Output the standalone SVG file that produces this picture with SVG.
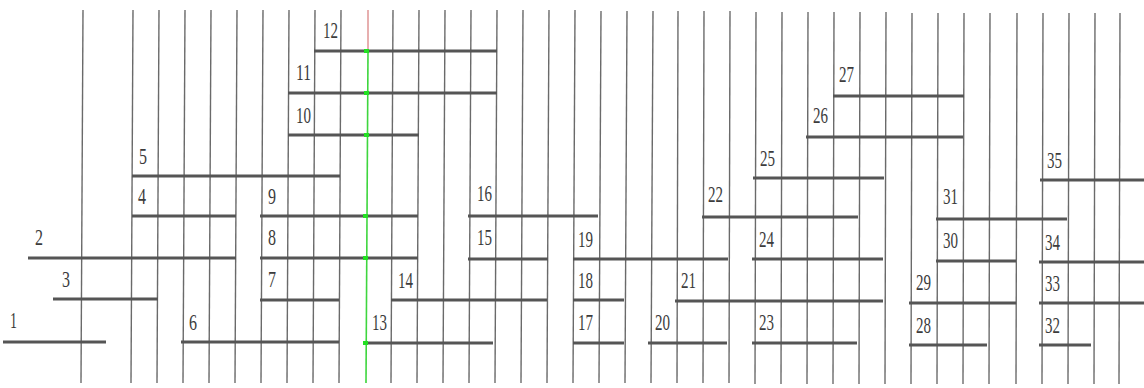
<svg xmlns="http://www.w3.org/2000/svg" width="1144" height="388" viewBox="0 0 1144 388">
<style>
.v{stroke:#6a6a6a;stroke-width:1.4}
.h{stroke:#555;stroke-width:3;stroke-linecap:butt}
.t{font-family:"Liberation Serif","Times New Roman",serif;font-size:24px;fill:#3c3c3c}
</style>
<rect width="1144" height="388" fill="#fff"/>
<g id="grid">
<line class="v" x1="83" y1="10" x2="81" y2="383"/>
<line class="v" x1="133" y1="10" x2="131" y2="383"/>
<line class="v" x1="159" y1="10" x2="157" y2="383"/>
<line class="v" x1="185" y1="10" x2="183" y2="383"/>
<line class="v" x1="211" y1="10" x2="209" y2="383"/>
<line class="v" x1="237" y1="10" x2="235" y2="383"/>
<line class="v" x1="263" y1="10" x2="261" y2="383"/>
<line class="v" x1="289" y1="10" x2="287" y2="383"/>
<line class="v" x1="315" y1="10" x2="313" y2="383"/>
<line class="v" x1="341" y1="10" x2="339" y2="383"/>
<line class="v" x1="393" y1="10" x2="391" y2="383"/>
<line class="v" x1="419" y1="10" x2="417" y2="383"/>
<line class="v" x1="445" y1="10" x2="443" y2="383"/>
<line class="v" x1="471" y1="10" x2="469" y2="383"/>
<line class="v" x1="497" y1="10" x2="495" y2="383"/>
<line class="v" x1="523" y1="10" x2="521" y2="383"/>
<line class="v" x1="549" y1="10" x2="547" y2="383"/>
<line class="v" x1="575" y1="10" x2="573" y2="383"/>
<line class="v" x1="601" y1="11" x2="599" y2="383"/>
<line class="v" x1="627" y1="11" x2="625" y2="383"/>
<line class="v" x1="653" y1="11" x2="651" y2="383"/>
<line class="v" x1="678" y1="11" x2="677" y2="383"/>
<line class="v" x1="704" y1="11" x2="703" y2="383"/>
<line class="v" x1="730" y1="11" x2="729" y2="383"/>
<line class="v" x1="756" y1="12" x2="755" y2="384"/>
<line class="v" x1="782" y1="12" x2="781" y2="384"/>
<line class="v" x1="808" y1="12" x2="807" y2="384"/>
<line class="v" x1="834" y1="12" x2="833" y2="384"/>
<line class="v" x1="860" y1="12" x2="859" y2="384"/>
<line class="v" x1="886" y1="12" x2="885" y2="384"/>
<line class="v" x1="912" y1="13" x2="911" y2="384"/>
<line class="v" x1="938" y1="13" x2="937" y2="384"/>
<line class="v" x1="964" y1="13" x2="963" y2="384"/>
<line class="v" x1="990" y1="13" x2="989" y2="384"/>
<line class="v" x1="1017" y1="13" x2="1016" y2="384"/>
<line class="v" x1="1043" y1="13" x2="1042" y2="384"/>
<line class="v" x1="1069" y1="13" x2="1068" y2="384"/>
<line class="v" x1="1095" y1="13" x2="1094" y2="384"/>
<line class="v" x1="1120" y1="13" x2="1119" y2="384"/>
</g>
<g id="nodes">
<g id="n1"><line class="h" x1="3" y1="342" x2="106" y2="342"/><text class="t" x="10" y="328" textLength="7" lengthAdjust="spacingAndGlyphs">1</text></g>
<g id="n2"><line class="h" x1="28" y1="258" x2="236" y2="258"/><text class="t" x="35" y="245" textLength="8" lengthAdjust="spacingAndGlyphs">2</text></g>
<g id="n3"><line class="h" x1="53" y1="299" x2="158" y2="299"/><text class="t" x="62" y="287" textLength="8" lengthAdjust="spacingAndGlyphs">3</text></g>
<g id="n4"><line class="h" x1="132" y1="216" x2="236" y2="216"/><text class="t" x="138" y="204" textLength="8" lengthAdjust="spacingAndGlyphs">4</text></g>
<g id="n5"><line class="h" x1="132" y1="176" x2="340" y2="176"/><text class="t" x="139" y="164" textLength="8" lengthAdjust="spacingAndGlyphs">5</text></g>
<g id="n6"><line class="h" x1="181" y1="342" x2="339" y2="342"/><text class="t" x="189" y="330" textLength="8" lengthAdjust="spacingAndGlyphs">6</text></g>
<g id="n7"><line class="h" x1="260" y1="300" x2="339" y2="300"/><text class="t" x="268" y="287" textLength="8" lengthAdjust="spacingAndGlyphs">7</text></g>
<g id="n8"><line class="h" x1="260" y1="258" x2="418" y2="258"/><text class="t" x="268" y="245" textLength="8" lengthAdjust="spacingAndGlyphs">8</text></g>
<g id="n9"><line class="h" x1="260" y1="216" x2="418" y2="216"/><text class="t" x="268" y="204" textLength="8" lengthAdjust="spacingAndGlyphs">9</text></g>
<g id="n10"><line class="h" x1="288" y1="135" x2="419" y2="135"/><text class="t" x="296" y="123" textLength="15" lengthAdjust="spacingAndGlyphs">10</text></g>
<g id="n11"><line class="h" x1="288" y1="93" x2="497" y2="93"/><text class="t" x="296" y="80" textLength="15" lengthAdjust="spacingAndGlyphs">11</text></g>
<g id="n12"><line class="h" x1="314" y1="51" x2="497" y2="51"/><text class="t" x="323" y="38" textLength="15" lengthAdjust="spacingAndGlyphs">12</text></g>
<g id="n13"><line class="h" x1="364" y1="343" x2="493" y2="343"/><text class="t" x="372" y="330" textLength="15" lengthAdjust="spacingAndGlyphs">13</text></g>
<g id="n14"><line class="h" x1="391" y1="300" x2="547" y2="300"/><text class="t" x="398" y="288" textLength="15" lengthAdjust="spacingAndGlyphs">14</text></g>
<g id="n15"><line class="h" x1="468" y1="259" x2="548" y2="259"/><text class="t" x="477" y="245" textLength="15" lengthAdjust="spacingAndGlyphs">15</text></g>
<g id="n16"><line class="h" x1="468" y1="216" x2="598" y2="216"/><text class="t" x="477" y="201" textLength="15" lengthAdjust="spacingAndGlyphs">16</text></g>
<g id="n17"><line class="h" x1="573" y1="343" x2="624" y2="343"/><text class="t" x="578" y="330" textLength="15" lengthAdjust="spacingAndGlyphs">17</text></g>
<g id="n18"><line class="h" x1="573" y1="300" x2="624" y2="300"/><text class="t" x="578" y="288" textLength="15" lengthAdjust="spacingAndGlyphs">18</text></g>
<g id="n19"><line class="h" x1="573" y1="259" x2="728" y2="259"/><text class="t" x="578" y="247" textLength="15" lengthAdjust="spacingAndGlyphs">19</text></g>
<g id="n20"><line class="h" x1="648" y1="343" x2="727" y2="343"/><text class="t" x="655" y="330" textLength="15" lengthAdjust="spacingAndGlyphs">20</text></g>
<g id="n21"><line class="h" x1="675" y1="301" x2="883" y2="301"/><text class="t" x="681" y="288" textLength="15" lengthAdjust="spacingAndGlyphs">21</text></g>
<g id="n22"><line class="h" x1="702" y1="217" x2="858" y2="217"/><text class="t" x="708" y="202" textLength="15" lengthAdjust="spacingAndGlyphs">22</text></g>
<g id="n23"><line class="h" x1="752" y1="343" x2="857" y2="343"/><text class="t" x="759" y="330" textLength="15" lengthAdjust="spacingAndGlyphs">23</text></g>
<g id="n24"><line class="h" x1="752" y1="259" x2="883" y2="259"/><text class="t" x="759" y="247" textLength="15" lengthAdjust="spacingAndGlyphs">24</text></g>
<g id="n25"><line class="h" x1="753" y1="178" x2="884" y2="178"/><text class="t" x="760" y="166" textLength="15" lengthAdjust="spacingAndGlyphs">25</text></g>
<g id="n26"><line class="h" x1="806" y1="137" x2="963" y2="137"/><text class="t" x="813" y="123" textLength="15" lengthAdjust="spacingAndGlyphs">26</text></g>
<g id="n27"><line class="h" x1="833" y1="96" x2="964" y2="96"/><text class="t" x="839" y="82" textLength="15" lengthAdjust="spacingAndGlyphs">27</text></g>
<g id="n28"><line class="h" x1="909" y1="345" x2="987" y2="345"/><text class="t" x="916" y="333" textLength="15" lengthAdjust="spacingAndGlyphs">28</text></g>
<g id="n29"><line class="h" x1="909" y1="303" x2="1016" y2="303"/><text class="t" x="916" y="290" textLength="15" lengthAdjust="spacingAndGlyphs">29</text></g>
<g id="n30"><line class="h" x1="936" y1="261" x2="1016" y2="261"/><text class="t" x="943" y="248" textLength="15" lengthAdjust="spacingAndGlyphs">30</text></g>
<g id="n31"><line class="h" x1="936" y1="219" x2="1067" y2="219"/><text class="t" x="943" y="204" textLength="15" lengthAdjust="spacingAndGlyphs">31</text></g>
<g id="n32"><line class="h" x1="1039" y1="345" x2="1091" y2="345"/><text class="t" x="1045" y="333" textLength="15" lengthAdjust="spacingAndGlyphs">32</text></g>
<g id="n33"><line class="h" x1="1039" y1="303" x2="1144" y2="303"/><text class="t" x="1045" y="291" textLength="15" lengthAdjust="spacingAndGlyphs">33</text></g>
<g id="n34"><line class="h" x1="1039" y1="262" x2="1144" y2="262"/><text class="t" x="1045" y="250" textLength="15" lengthAdjust="spacingAndGlyphs">34</text></g>
<g id="n35"><line class="h" x1="1040" y1="180" x2="1144" y2="180"/><text class="t" x="1047" y="168" textLength="15" lengthAdjust="spacingAndGlyphs">35</text></g>
</g>
<g id="connectors">
<line x1="368" y1="10" x2="368" y2="51" stroke="#d77a7a" stroke-width="1.2"/>
<line x1="368" y1="51" x2="366" y2="383" stroke="#3ed63e" stroke-width="1.6"/>
<g fill="#22e022">
<rect x="364" y="49" width="5" height="4"/>
<rect x="364" y="91" width="5" height="4"/>
<rect x="364" y="133" width="5" height="4"/>
<rect x="363" y="214" width="5" height="4"/>
<rect x="363" y="256" width="5" height="4"/>
<rect x="363" y="341" width="5" height="4"/>
</g>
</g>
</svg>
